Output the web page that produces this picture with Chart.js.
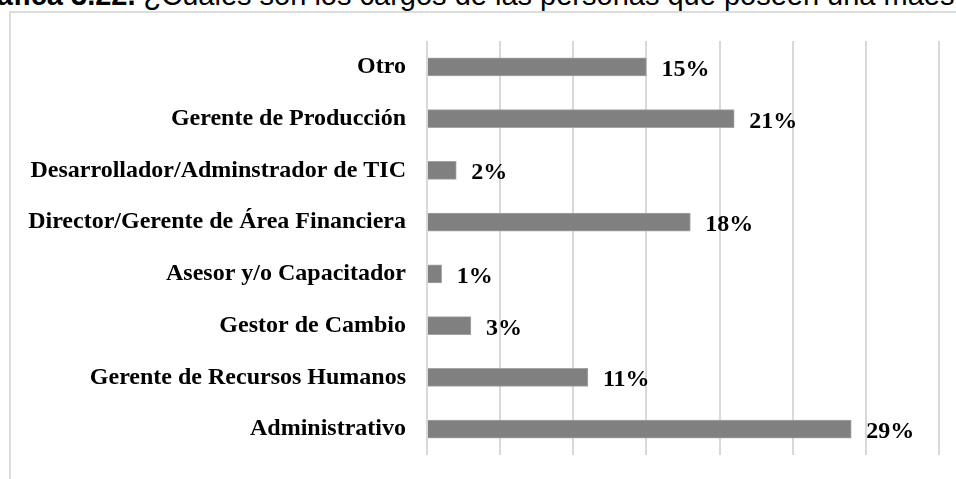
<!DOCTYPE html>
<html>
<head>
<meta charset="utf-8">
<script src="https://cdn.jsdelivr.net/npm/chart.js@4/dist/chart.umd.min.js"></script>
<style>
    html, body { margin: 0; padding: 0; background: #fff; overflow: hidden; width: 956px; height: 479px; }
    #titulo {
        position: absolute; left: -37px; top: -19px; white-space: nowrap;
        font-family: 'Liberation Sans', Arial, sans-serif; font-size: 29px; line-height: 29px; color: #000;
    }
    #marco {
        position: absolute; left: 9px; top: 11px; width: 1100px; height: 700px;
        border: 2px solid #dcdcdc;
    }
    #graficoCargos { position: absolute; left: 0; top: 0; }
</style>
</head>
<body>
<div id="titulo"><b>Gráfica 3.22.</b> ¿Cuáles son los cargos de las personas que poseen una maestría?</div>
<div id="marco"></div>
<canvas id="graficoCargos" width="956" height="479"></canvas>
<script>
// Datos del gráfico
const cargos = [
    'Otro',
    'Gerente de Producción',
    'Desarrollador/Adminstrador de TIC',
    'Director/Gerente de Área Financiera',
    'Asesor y/o Capacitador',
    'Gestor de Cambio',
    'Gerente de Recursos Humanos',
    'Administrativo'
];
const porcentajes = [15, 21, 2, 18, 1, 3, 11, 29];
const ejeMaximo = 35;
const pasoEje = 5;

const fuenteSerif = "'Liberation Serif', 'Times New Roman', serif";

// Etiquetas de valor al final de cada barra
const etiquetasValor = {
    id: 'etiquetasValor',
    afterDatasetsDraw(chart) {
        const ctx = chart.ctx;
        const meta = chart.getDatasetMeta(0);
        ctx.save();
        ctx.font = 'bold 24px ' + fuenteSerif;
        ctx.fillStyle = '#000';
        ctx.textAlign = 'left';
        ctx.textBaseline = 'alphabetic';
        meta.data.forEach((barra, i) => {
            ctx.fillText(porcentajes[i] + '%', barra.x + 15, barra.y + 9);
        });
        ctx.restore();
    }
};

const ctx = document.getElementById('graficoCargos').getContext('2d');
new Chart(ctx, {
    type: 'bar',
    data: {
        labels: cargos,
        datasets: [{
            data: porcentajes,
            backgroundColor: '#808080',
            borderColor: '#a3a3a3',
            borderWidth: 1,
            barThickness: 18
        }]
    },
    plugins: [etiquetasValor],
    options: {
        indexAxis: 'y',
        responsive: false,
        animation: false,
        layout: {
            padding: { left: 0, right: 17, top: 41, bottom: 24 }
        },
        plugins: {
            legend: { display: false },
            tooltip: { enabled: false }
        },
        scales: {
            x: {
                min: 0,
                max: ejeMaximo,
                afterFit: s => { s.height = 0; },
                ticks: { display: false, stepSize: pasoEje },
                grid: { color: '#d9d9d9', lineWidth: 2, drawTicks: false },
                border: { display: false }
            },
            y: {
                afterFit: s => {
                    s.width = 427;
                    s.paddingTop = 0;
                    s.paddingBottom = 0;
                },
                ticks: {
                    color: '#000',
                    padding: 21,
                    font: { size: 24, weight: 'bold', family: fuenteSerif }
                },
                grid: { display: false, drawTicks: false },
                border: { display: false }
            }
        }
    }
});
</script>
</body>
</html>
